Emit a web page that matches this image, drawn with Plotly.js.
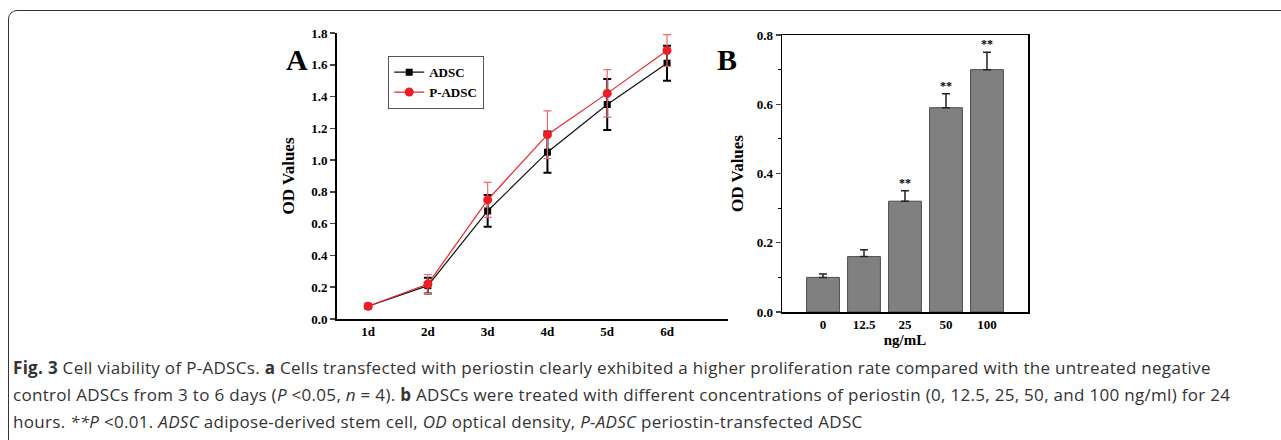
<!DOCTYPE html>
<html>
<head>
<meta charset="utf-8">
<script src="https://cdn.plot.ly/plotly-3.0.1.min.js"></script>
<style>
  html, body { margin: 0; padding: 0; background: #fff; }
  #wrap { position: relative; width: 1281px; height: 440px; overflow: hidden; }
  #chart { position: absolute; left: 0; top: 0; width: 1281px; height: 440px; }
  #frame { position: absolute; left: 8px; top: 10px; width: 1300px; height: 460px;
           border: 1.6px solid #333; border-radius: 9px; pointer-events: none; }
  #caption { position: absolute; left: 13px; top: 354px; font-family: "Open Sans", sans-serif;
             font-size: 17px; line-height: 27px; color: #333; white-space: nowrap; letter-spacing: 0.3px; }
  #caption b { font-weight: 700; }
</style>
</head>
<body>
<div id="wrap">
  <div id="chart"></div>
  <div id="frame"></div>
  <div id="caption">
    <b>Fig. 3</b> Cell viability of P-ADSCs. <b>a</b> Cells transfected with periostin clearly exhibited a higher proliferation rate compared with the untreated negative<br>
    control ADSCs from 3 to 6 days (<i>P</i> &lt;0.05, <i>n</i> = 4). <b>b</b> ADSCs were treated with different concentrations of periostin (0, 12.5, 25, 50, and 100 ng/ml) for 24<br>
    hours. <i>**P</i> &lt;0.01. <i>ADSC</i> adipose-derived stem cell, <i>OD</i> optical density, <i>P-ADSC</i> periostin-transfected ADSC
  </div>
</div>
<script>
// Panel A data
const days = ['1d', '2d', '3d', '4d', '5d', '6d'];
const adsc = [0.08, 0.21, 0.68, 1.05, 1.35, 1.61];
const adscErr = [0.01, 0.05, 0.10, 0.13, 0.16, 0.11];
const padsc = [0.08, 0.22, 0.75, 1.16, 1.42, 1.69];
const padscErr = [0.01, 0.06, 0.11, 0.15, 0.15, 0.10];
const yTicksA = [0, 0.2, 0.4, 0.6, 0.8, 1.0, 1.2, 1.4, 1.6, 1.8];

// Panel B data
const conc = ['0', '12.5', '25', '50', '100'];
const od = [0.10, 0.16, 0.32, 0.59, 0.70];
const odErr = [0.01, 0.02, 0.03, 0.04, 0.05];
const sig = ['', '', '**', '**', '**'];
const yTicksB = [0, 0.2, 0.4, 0.6, 0.8];

const serif = 'Liberation Serif, Times New Roman, serif';
const W = 1281, H = 440;

const traces = [
  {
    x: days, y: adsc, name: 'ADSC', type: 'scatter', mode: 'lines+markers',
    xaxis: 'x', yaxis: 'y',
    line: { color: '#111', width: 1.2 },
    marker: { symbol: 'square', size: 7, color: '#000' },
    error_y: { type: 'data', array: adscErr, visible: true, color: '#000', thickness: 2, width: 4 }
  },
  {
    x: days, y: padsc, name: 'P-ADSC', type: 'scatter', mode: 'lines+markers',
    xaxis: 'x', yaxis: 'y',
    line: { color: '#e8262b', width: 1.2 },
    marker: { symbol: 'circle', size: 9, color: '#ee1c24' },
    error_y: { type: 'data', array: padscErr, visible: true, color: '#ea6a6e', thickness: 1.2, width: 4 }
  },
  {
    x: conc.map((c, i) => i), y: od, type: 'bar', name: 'OD', showlegend: false,
    xaxis: 'x2', yaxis: 'y2', width: 0.8,
    marker: { color: '#808080', line: { color: '#4a4a4a', width: 1 } },
    error_y: { type: 'data', array: odErr, arrayminus: odErr.map(() => 0), symmetric: false,
               visible: true, color: '#222', thickness: 1.5, width: 4 }
  }
];

const annotations = [
  { text: '<b>A</b>', xref: 'paper', yref: 'paper', x: 284 / W, y: 1 - 41 / H, showarrow: false,
    font: { family: serif, size: 30, color: '#000' } },
  { text: '<b>B</b>', xref: 'paper', yref: 'paper', x: 727 / W, y: 1 - 41 / H, showarrow: false,
    font: { family: serif, size: 30, color: '#000' } }
];
sig.forEach((s, i) => {
  if (s) annotations.push({ text: '<b>' + s + '</b>', xref: 'x2', yref: 'y2', x: i, y: od[i] + odErr[i],
    yanchor: 'bottom', yshift: -1, showarrow: false, font: { family: serif, size: 12, color: '#000000' } });
});

const tickFont = { family: serif, size: 13, color: '#000', weight: 'bold' };
const layout = {
  width: W, height: H,
  margin: { l: 0, r: 0, t: 0, b: 0 },
  paper_bgcolor: '#fff', plot_bgcolor: 'rgba(0,0,0,0)',
  showlegend: true,
  legend: {
    x: 388 / W, y: 1 - 56 / H, xanchor: 'left', yanchor: 'top',
    bgcolor: '#fff', bordercolor: '#555', borderwidth: 1.2,
    font: { family: serif, size: 13, color: '#000', weight: 'bold' },
    tracegroupgap: 0, itemwidth: 30
  },
  xaxis: {
    domain: [337 / W, 728 / W], range: [-0.52, 6.02], type: 'category',
    showline: true, linecolor: '#000', linewidth: 1.8, ticks: '', showgrid: false, zeroline: false,
    tickfont: tickFont, ticklabelstandoff: 0
  },
  yaxis: {
    domain: [1 - 319 / H, 1 - 33 / H], range: [0, 1.8],
    tickvals: yTicksA, ticktext: yTicksA.map(v => v.toFixed(1)),
    showline: true, linecolor: '#000', linewidth: 1.8, ticks: 'outside', ticklen: 5, tickwidth: 1.5,
    showgrid: false, zeroline: false, tickfont: tickFont,
    title: { text: '<b>OD Values</b>', font: { family: serif, size: 17, color: '#000' }, standoff: 12 }
  },
  xaxis2: {
    domain: [782 / W, 1028 / W], range: [-1, 5], anchor: 'y2',
    tickvals: conc.map((c, i) => i), ticktext: conc,
    showline: true, mirror: true, linecolor: '#000', linewidth: 1.5, ticks: '', showgrid: false, zeroline: false,
    tickfont: tickFont, ticklabelstandoff: 0,
    title: { text: '<b>ng/mL</b>', font: { family: serif, size: 15, color: '#000' }, standoff: 2 }
  },
  yaxis2: {
    domain: [1 - 312 / H, 1 - 35 / H], range: [0, 0.8], anchor: 'x2',
    tickvals: yTicksB, ticktext: yTicksB.map(v => v.toFixed(1)),
    showline: true, mirror: true, linecolor: '#000', linewidth: 1.5, ticks: 'outside', ticklen: 5, tickwidth: 1.3,
    minor: { ticks: 'outside', dtick: 0.1, ticklen: 3, tickwidth: 1, tickcolor: '#000' },
    showgrid: false, zeroline: false, tickfont: tickFont,
    title: { text: '<b>OD Values</b>', font: { family: serif, size: 17, color: '#000' }, standoff: 8 }
  },
  annotations: annotations
};

Plotly.newPlot('chart', traces, layout, { displayModeBar: false, staticPlot: true });
</script>
</body>
</html>
